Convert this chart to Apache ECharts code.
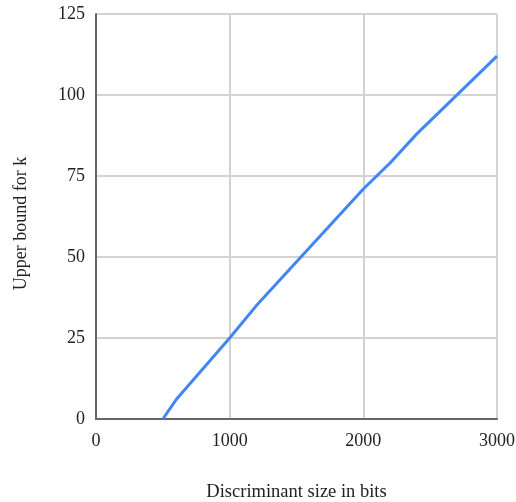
<!DOCTYPE html>
<html>
<head>
<meta charset="utf-8">
<script src="https://cdn.jsdelivr.net/npm/echarts@6/dist/echarts.min.js"></script>
<style>
  html, body { margin: 0; padding: 0; background: #fff; }
  #chart { width: 516px; height: 502px; }
</style>
</head>
<body>
<div id="chart"></div>
<script>
// discriminant size (bits) vs upper bound for k
const bits = [500, 600, 1000, 1200, 2000, 2200, 2400, 3000];
const upperK = [0, 6, 25, 35, 71, 79, 88, 112];

const font = "'Liberation Serif', 'Times New Roman', serif";
const myChart = echarts.init(document.getElementById("chart"));
myChart.setOption({
  animation: false,
  grid: { left: 96, right: 19, top: 14, bottom: 83, outerBoundsMode: "none", containLabel: false },
  xAxis: {
    type: "value",
    min: 0,
    max: 3000,
    interval: 1000,
    name: "Discriminant size in bits",
    nameLocation: "middle",
    nameGap: 64,
    nameTextStyle: { fontFamily: font, fontSize: 18.5, color: "#222" },
    axisLine: { show: true, lineStyle: { color: "#666", width: 2 } },
    axisTick: { show: false },
    axisLabel: { fontFamily: font, fontSize: 18, color: "#222", margin: 13, formatter: (v) => String(v) },
    splitLine: { show: true, lineStyle: { color: "#d3d3d3", width: 2 } },
  },
  yAxis: {
    type: "value",
    min: 0,
    max: 125,
    interval: 25,
    name: "Upper bound for k",
    nameLocation: "middle",
    nameGap: 66,
    nameTextStyle: { fontFamily: font, fontSize: 18, color: "#222", padding: [0, 14, 0, 0] },
    axisLine: { show: true, lineStyle: { color: "#666", width: 2 } },
    axisTick: { show: false },
    axisLabel: { fontFamily: font, fontSize: 18, color: "#222", margin: 11 },
    splitLine: { show: true, lineStyle: { color: "#d3d3d3", width: 2 } },
  },
  series: [
    {
      type: "line",
      data: bits.map((b, i) => [b, upperK[i]]),
      symbol: "none",
      lineStyle: { color: "#4285f4", width: 3 },
    },
  ],
});
</script>
</body>
</html>
